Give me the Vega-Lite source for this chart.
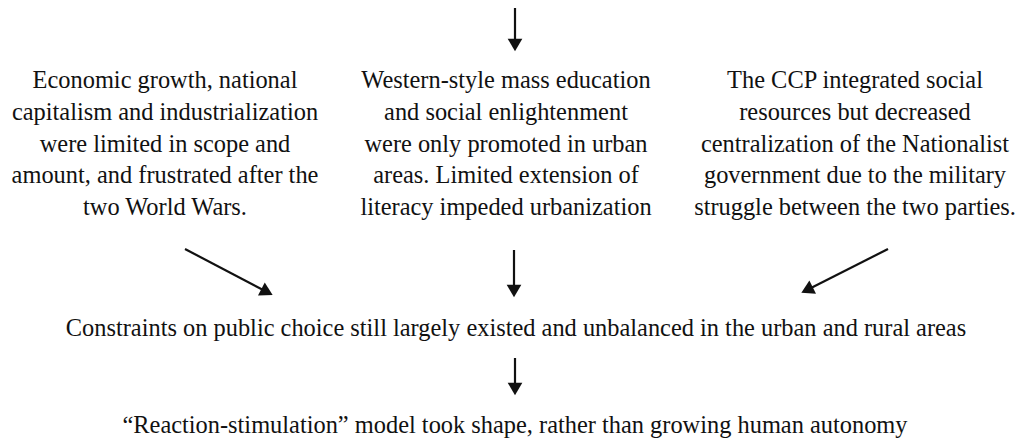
{
  "$schema": "https://vega.github.io/schema/vega-lite/v6.json",
  "width": 1016,
  "height": 439,
  "autosize": {"type": "fit", "contains": "padding"},
  "padding": 0,
  "background": "white",
  "config": {"view": {"stroke": null}},
  "datasets": {
    "texts": [
      {"x": 165, "y": 88, "t": "Economic growth, national"},
      {"x": 165, "y": 120, "t": "capitalism and industrialization"},
      {"x": 165, "y": 152, "t": "were limited in scope and"},
      {"x": 165, "y": 183, "t": "amount, and frustrated after the"},
      {"x": 165, "y": 215, "t": "two World Wars."},
      {"x": 506, "y": 88, "t": "Western-style mass education"},
      {"x": 506, "y": 120, "t": "and social enlightenment"},
      {"x": 506, "y": 152, "t": "were only promoted in urban"},
      {"x": 506, "y": 183, "t": "areas. Limited extension of"},
      {"x": 506, "y": 215, "t": "literacy impeded urbanization"},
      {"x": 855, "y": 88, "t": "The CCP integrated social"},
      {"x": 855, "y": 120, "t": "resources but decreased"},
      {"x": 855, "y": 152, "t": "centralization of the Nationalist"},
      {"x": 855, "y": 183, "t": "government due to the military"},
      {"x": 855, "y": 215, "t": "struggle between the two parties."},
      {"x": 516, "y": 336, "t": "Constraints on public choice still largely existed and unbalanced in the urban and rural areas"},
      {"x": 515, "y": 433, "t": "“Reaction-stimulation” model took shape, rather than growing human autonomy"}
    ],
    "lines": [
      {"x": 515, "y": 8, "x2": 515, "y2": 40},
      {"x": 185, "y": 249, "x2": 267, "y2": 292},
      {"x": 514, "y": 250, "x2": 514, "y2": 286},
      {"x": 888, "y": 249, "x2": 807, "y2": 290},
      {"x": 515, "y": 358, "x2": 515, "y2": 385}
    ],
    "heads": [
      {"x": 515, "y": 45, "a": 180},
      {"x": 267, "y": 292, "a": 117.6},
      {"x": 514, "y": 291, "a": 180},
      {"x": 807, "y": 290, "a": 243.2},
      {"x": 515, "y": 389, "a": 180}
    ]
  },
  "layer": [
    {
      "data": {"name": "lines"},
      "mark": {"type": "rule", "strokeWidth": 2.2, "color": "#111"},
      "encoding": {
        "x": {"field": "x", "type": "quantitative", "scale": {"domain": [0, 1016], "nice": false, "zero": false}, "axis": null},
        "y": {"field": "y", "type": "quantitative", "scale": {"domain": [0, 439], "nice": false, "zero": false, "reverse": true}, "axis": null},
        "x2": {"field": "x2"},
        "y2": {"field": "y2"}
      }
    },
    {
      "data": {"name": "heads"},
      "mark": {"type": "point", "shape": "triangle-up", "filled": true, "size": 215, "color": "#111", "opacity": 1},
      "encoding": {
        "x": {"field": "x", "type": "quantitative"},
        "y": {"field": "y", "type": "quantitative"},
        "angle": {"field": "a", "type": "quantitative", "scale": null}
      }
    },
    {
      "data": {"name": "texts"},
      "mark": {"type": "text", "font": "Liberation Serif", "fontSize": 24.4, "align": "center", "baseline": "alphabetic", "color": "#111"},
      "encoding": {
        "x": {"field": "x", "type": "quantitative"},
        "y": {"field": "y", "type": "quantitative"},
        "text": {"field": "t"}
      }
    }
  ]
}
